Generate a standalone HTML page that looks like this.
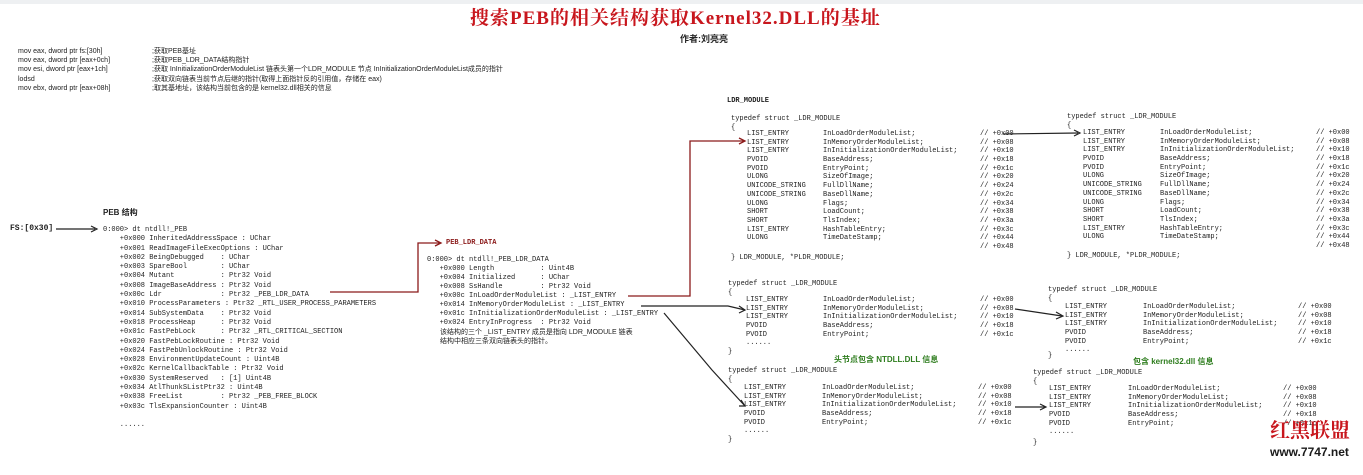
<!DOCTYPE html>
<html><head><meta charset="utf-8">
<style>
html,body{margin:0;padding:0}
body{width:1363px;height:475px;position:relative;background:#fff;overflow:hidden;font-family:"Liberation Mono","Noto Sans CJK SC",monospace;font-size:7px;color:#222}
.a{position:absolute;white-space:pre;line-height:8.7px}
.b{font-weight:bold;font-family:"Liberation Mono","Noto Sans CJK SC",monospace}
.blk{position:absolute;white-space:normal;line-height:8.7px}
.blk div{height:8.7px;position:relative}
.blk span{position:absolute;top:0;white-space:pre}
.cn{font-family:"Liberation Sans","Noto Sans CJK SC",sans-serif}
</style></head><body>
<div style="position:absolute;left:0;top:0;width:1363px;height:4px;background:#eef0f2"></div>
<div class="a" style="left:470px;top:8px;font-family:'Liberation Serif','Noto Serif CJK SC',serif;font-size:19px;line-height:22px;color:#c8161d;font-weight:bold;letter-spacing:1px">搜索PEB的相关结构获取Kernel32.DLL的基址</div>
<div class="a cn" style="left:680px;top:34px;font-size:9px;line-height:11px;font-weight:bold">作者:刘亮亮</div>

<div class="a cn" style="left:18px;top:47px;font-size:7px;line-height:9.2px">mov eax, dword ptr fs:[30h]
mov eax, dword ptr [eax+0ch]
mov esi, dword ptr [eax+1ch]
lodsd
mov ebx, dword ptr [eax+08h]</div>
<div class="a cn" style="left:152px;top:47px;font-size:7px;line-height:9.2px">;获取PEB基址
;获取PEB_LDR_DATA结构指针
;获取 InInitializationOrderModuleList 链表头第一个LDR_MODULE 节点 InInitializationOrderModuleList成员的指针
;获取双向链表当前节点后继的指针(取得上面指针反的引用值，存储在 eax)
;取其基地址，该结构当前包含的是 kernel32.dll相关的信息</div>

<div class="a b" style="left:10px;top:225px;font-size:8px">FS:[0x30]</div>
<div class="a b cn" style="left:103px;top:209px;font-size:8px">PEB 结构</div>
<div class="a" style="left:103px;top:226px;line-height:9.3px">0:000&gt; dt ntdll!_PEB
    +0x000 InheritedAddressSpace : UChar
    +0x001 ReadImageFileExecOptions : UChar
    +0x002 BeingDebugged    : UChar
    +0x003 SpareBool        : UChar
    +0x004 Mutant           : Ptr32 Void
    +0x008 ImageBaseAddress : Ptr32 Void
    +0x00c Ldr              : Ptr32 _PEB_LDR_DATA
    +0x010 ProcessParameters : Ptr32 _RTL_USER_PROCESS_PARAMETERS
    +0x014 SubSystemData    : Ptr32 Void
    +0x018 ProcessHeap      : Ptr32 Void
    +0x01c FastPebLock      : Ptr32 _RTL_CRITICAL_SECTION
    +0x020 FastPebLockRoutine : Ptr32 Void
    +0x024 FastPebUnlockRoutine : Ptr32 Void
    +0x028 EnvironmentUpdateCount : Uint4B
    +0x02c KernelCallbackTable : Ptr32 Void
    +0x030 SystemReserved   : [1] Uint4B
    +0x034 AtlThunkSListPtr32 : Uint4B
    +0x038 FreeList         : Ptr32 _PEB_FREE_BLOCK
    +0x03c TlsExpansionCounter : Uint4B

    ......</div>

<div class="a b" style="left:446px;top:239px;font-size:7px;color:#8b1a1a">PEB_LDR_DATA</div>
<div class="a" style="left:427px;top:256px;line-height:9px">0:000&gt; dt ntdll!_PEB_LDR_DATA
   +0x000 Length           : Uint4B
   +0x004 Initialized      : UChar
   +0x008 SsHandle         : Ptr32 Void
   +0x00c InLoadOrderModuleList : _LIST_ENTRY
   +0x014 InMemoryOrderModuleList : _LIST_ENTRY
   +0x01c InInitializationOrderModuleList : _LIST_ENTRY
   +0x024 EntryInProgress  : Ptr32 Void</div>
<div class="a cn" style="left:440px;top:328px;line-height:9px">该结构的三个 _LIST_ENTRY 成员是指向 LDR_MODULE 链表
结构中相应三条双向链表头的指针。</div>

<div class="a b" style="left:727px;top:97px">LDR_MODULE</div>

<!-- block1 -->
<div class="a" style="left:731px;top:115px">typedef struct _LDR_MODULE
{</div>
<div class="blk" style="left:747px;top:130px;width:280px"><div><span>LIST_ENTRY</span><span style="left:76px">InLoadOrderModuleList;</span><span style="left:233px">// +0x00</span></div><div><span>LIST_ENTRY</span><span style="left:76px">InMemoryOrderModuleList;</span><span style="left:233px">// +0x08</span></div><div><span>LIST_ENTRY</span><span style="left:76px">InInitializationOrderModuleList;</span><span style="left:233px">// +0x10</span></div><div><span>PVOID</span><span style="left:76px">BaseAddress;</span><span style="left:233px">// +0x18</span></div><div><span>PVOID</span><span style="left:76px">EntryPoint;</span><span style="left:233px">// +0x1c</span></div><div><span>ULONG</span><span style="left:76px">SizeOfImage;</span><span style="left:233px">// +0x20</span></div><div><span>UNICODE_STRING</span><span style="left:76px">FullDllName;</span><span style="left:233px">// +0x24</span></div><div><span>UNICODE_STRING</span><span style="left:76px">BaseDllName;</span><span style="left:233px">// +0x2c</span></div><div><span>ULONG</span><span style="left:76px">Flags;</span><span style="left:233px">// +0x34</span></div><div><span>SHORT</span><span style="left:76px">LoadCount;</span><span style="left:233px">// +0x38</span></div><div><span>SHORT</span><span style="left:76px">TlsIndex;</span><span style="left:233px">// +0x3a</span></div><div><span>LIST_ENTRY</span><span style="left:76px">HashTableEntry;</span><span style="left:233px">// +0x3c</span></div><div><span>ULONG</span><span style="left:76px">TimeDateStamp;</span><span style="left:233px">// +0x44</span></div><div><span style="left:233px">// +0x48</span></div></div>
<div class="a" style="left:731px;top:254px">} LDR_MODULE, *PLDR_MODULE;</div>

<!-- block2 -->
<div class="a" style="left:1067px;top:113px">typedef struct _LDR_MODULE
{</div>
<div class="blk" style="left:1083px;top:129px;width:280px"><div><span>LIST_ENTRY</span><span style="left:77px">InLoadOrderModuleList;</span><span style="left:233px">// +0x00</span></div><div><span>LIST_ENTRY</span><span style="left:77px">InMemoryOrderModuleList;</span><span style="left:233px">// +0x08</span></div><div><span>LIST_ENTRY</span><span style="left:77px">InInitializationOrderModuleList;</span><span style="left:233px">// +0x10</span></div><div><span>PVOID</span><span style="left:77px">BaseAddress;</span><span style="left:233px">// +0x18</span></div><div><span>PVOID</span><span style="left:77px">EntryPoint;</span><span style="left:233px">// +0x1c</span></div><div><span>ULONG</span><span style="left:77px">SizeOfImage;</span><span style="left:233px">// +0x20</span></div><div><span>UNICODE_STRING</span><span style="left:77px">FullDllName;</span><span style="left:233px">// +0x24</span></div><div><span>UNICODE_STRING</span><span style="left:77px">BaseDllName;</span><span style="left:233px">// +0x2c</span></div><div><span>ULONG</span><span style="left:77px">Flags;</span><span style="left:233px">// +0x34</span></div><div><span>SHORT</span><span style="left:77px">LoadCount;</span><span style="left:233px">// +0x38</span></div><div><span>SHORT</span><span style="left:77px">TlsIndex;</span><span style="left:233px">// +0x3a</span></div><div><span>LIST_ENTRY</span><span style="left:77px">HashTableEntry;</span><span style="left:233px">// +0x3c</span></div><div><span>ULONG</span><span style="left:77px">TimeDateStamp;</span><span style="left:233px">// +0x44</span></div><div><span style="left:233px">// +0x48</span></div></div>
<div class="a" style="left:1067px;top:252px">} LDR_MODULE, *PLDR_MODULE;</div>

<!-- block3 -->
<div class="a" style="left:728px;top:280px">typedef struct _LDR_MODULE
{</div>
<div class="blk" style="left:746px;top:296px;width:280px"><div><span>LIST_ENTRY</span><span style="left:77px">InLoadOrderModuleList;</span><span style="left:234px">// +0x00</span></div><div><span>LIST_ENTRY</span><span style="left:77px">InMemoryOrderModuleList;</span><span style="left:234px">// +0x08</span></div><div><span>LIST_ENTRY</span><span style="left:77px">InInitializationOrderModuleList;</span><span style="left:234px">// +0x10</span></div><div><span>PVOID</span><span style="left:77px">BaseAddress;</span><span style="left:234px">// +0x18</span></div><div><span>PVOID</span><span style="left:77px">EntryPoint;</span><span style="left:234px">// +0x1c</span></div><div><span>......</span></div></div>
<div class="a" style="left:728px;top:348px">}</div>
<div class="a b cn" style="left:834px;top:356px;color:#2e7d1e;font-size:8px">头节点包含 NTDLL.DLL 信息</div>

<!-- block4 -->
<div class="a" style="left:728px;top:367px">typedef struct _LDR_MODULE
{</div>
<div class="blk" style="left:744px;top:384px;width:280px"><div><span>LIST_ENTRY</span><span style="left:78px">InLoadOrderModuleList;</span><span style="left:234px">// +0x00</span></div><div><span>LIST_ENTRY</span><span style="left:78px">InMemoryOrderModuleList;</span><span style="left:234px">// +0x08</span></div><div><span>LIST_ENTRY</span><span style="left:78px">InInitializationOrderModuleList;</span><span style="left:234px">// +0x10</span></div><div><span>PVOID</span><span style="left:78px">BaseAddress;</span><span style="left:234px">// +0x18</span></div><div><span>PVOID</span><span style="left:78px">EntryPoint;</span><span style="left:234px">// +0x1c</span></div><div><span>......</span></div></div>
<div class="a" style="left:728px;top:436px">}</div>

<!-- block5 -->
<div class="a" style="left:1048px;top:286px">typedef struct _LDR_MODULE
{</div>
<div class="blk" style="left:1065px;top:303px;width:280px"><div><span>LIST_ENTRY</span><span style="left:78px">InLoadOrderModuleList;</span><span style="left:233px">// +0x00</span></div><div><span>LIST_ENTRY</span><span style="left:78px">InMemoryOrderModuleList;</span><span style="left:233px">// +0x08</span></div><div><span>LIST_ENTRY</span><span style="left:78px">InInitializationOrderModuleList;</span><span style="left:233px">// +0x10</span></div><div><span>PVOID</span><span style="left:78px">BaseAddress;</span><span style="left:233px">// +0x18</span></div><div><span>PVOID</span><span style="left:78px">EntryPoint;</span><span style="left:233px">// +0x1c</span></div><div><span>......</span></div></div>
<div class="a" style="left:1048px;top:352px">}</div>
<div class="a b cn" style="left:1133px;top:358px;color:#2e7d1e;font-size:8px">包含 kernel32.dll 信息</div>

<!-- block6 -->
<div class="a" style="left:1033px;top:369px">typedef struct _LDR_MODULE
{</div>
<div class="blk" style="left:1049px;top:385px;width:280px"><div><span>LIST_ENTRY</span><span style="left:79px">InLoadOrderModuleList;</span><span style="left:234px">// +0x00</span></div><div><span>LIST_ENTRY</span><span style="left:79px">InMemoryOrderModuleList;</span><span style="left:234px">// +0x08</span></div><div><span>LIST_ENTRY</span><span style="left:79px">InInitializationOrderModuleList;</span><span style="left:234px">// +0x10</span></div><div><span>PVOID</span><span style="left:79px">BaseAddress;</span><span style="left:234px">// +0x18</span></div><div><span>PVOID</span><span style="left:79px">EntryPoint;</span><span style="left:234px">// +0x1c</span></div><div><span>......</span></div></div>
<div class="a" style="left:1033px;top:439px">}</div>

<svg width="1363" height="475" style="position:absolute;left:0;top:0" fill="none">
<g stroke="#222" stroke-width="1.2">
<path d="M56 229H95"/><path d="M91 226L97 229L91 232" />
<path d="M1003 134L1078 133"/><path d="M1074 130L1080 133L1074 136"/>
<path d="M641 306L728 306L745 310"/><path d="M739 306L745 310L739 313"/>
<path d="M664 313L712 370L745 406"/><path d="M741 400L745 406L739 406"/>
<path d="M1015 309L1062 316"/><path d="M1056 312L1063 316L1056 319"/>
<path d="M1015 407L1045 407"/><path d="M1040 404L1046 407L1040 410"/>
</g>
<g stroke="#8b1a1a" stroke-width="1.3">
<path d="M330 292H418V243H440"/><path d="M435 240L441 243L435 246"/>
<path d="M628 296H690V141H744"/><path d="M739 138L745 141L739 144"/>
</g>
</svg>

<div class="a cn" style="left:1270px;top:418px;font-size:20px;line-height:22px;color:#c8161d;font-weight:bold;font-family:'Noto Serif CJK SC',serif">红黑联盟</div>
<div class="a" style="left:1270px;top:445px;font-family:'Liberation Sans',sans-serif;font-size:12px;line-height:14px;font-weight:bold;color:#1a1a1a">www.7747.net</div>
</body></html>
